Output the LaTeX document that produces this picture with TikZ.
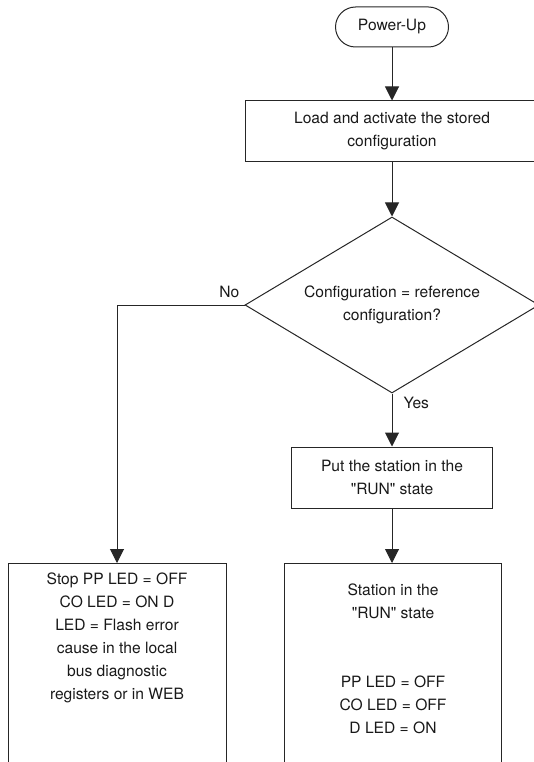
\documentclass[tikz,border=0pt]{standalone}
\usepackage{fontspec}
\setmainfont{TeX Gyre Heros}
\usetikzlibrary{shapes.geometric,arrows.meta,positioning}
\tikzset{>={Triangle[width=14pt,length=14pt]}}
\colorlet{Lcol}{black!85}
\colorlet{Tcol}{black!90}
\tikzstyle{flow}=[draw=Lcol,line width=1pt,text=Tcol,align=center,inner sep=0pt]
\tikzstyle{terminal}=[flow,rectangle,rounded corners=20pt,minimum width=113pt,minimum height=40pt]
\tikzstyle{process}=[flow,rectangle,minimum height=61pt]
\tikzstyle{decision}=[flow,diamond,aspect=1.67,minimum width=294pt,minimum height=176pt]
\tikzstyle{state}=[flow,rectangle,anchor=north,minimum height=250pt]
\tikzstyle{boxtext}=[align=center,inner sep=0pt,anchor=north,text=Tcol]
\tikzstyle{branch}=[inner sep=0pt,text=Tcol]
\tikzstyle{link}=[->,draw=Lcol,line width=1pt]
\def\cx{392}
\def\q{\textquotedbl}

\begin{document}
\begin{tikzpicture}[x=1pt,y=-1pt,font=\fontsize{15.6}{23}\selectfont]
  \clip (0,0) rectangle (534,762);

  % NODES
  \node[terminal] (power) at (\cx,27) {Power-Up};
  \node[process,minimum width=294pt] (load) at (\cx,131.5)
    {Load and activate the stored\\configuration};
  \node[decision] (check) at (\cx,305)
    {Configuration = reference\\configuration?};
  \node[process,minimum width=201pt] (put) at (\cx,477.5)
    {Put the station in the\\\q RUN\q{} state};

  % STATE BOXES
  \node[state,minimum width=218pt] (stop) at (117,563) {};
  \node[state,minimum width=217pt] (run) at (393,563) {};
  \node[boxtext] (stoptext) at ([yshift=-10pt]stop.north)
    {Stop PP LED = OFF\\CO LED = ON D\\LED = Flash error\\cause in the local\\bus diagnostic\\registers or in WEB};
  \node[boxtext] (runtext) at ([yshift=-21pt]run.north)
    {Station in the\\\q RUN\q{} state\\[46pt]PP LED = OFF\\CO LED = OFF\\D LED = ON};

  % ARROWS
  \draw[link] (power) -- (load);
  \draw[link] (load) -- (check);
  \draw[link] (check.south) -- (put.north)
    node[branch,pos=0,anchor=north west,xshift=11pt,yshift=-3pt] (yes) {Yes};
  \draw[link] (check.west) -| (stop.north);
  \node[branch,anchor=south east,xshift=-5pt,yshift=7.5pt] (no) at (check.west) {No};
  \draw[link] (put.south) -- (put.south |- run.north);
\end{tikzpicture}
\end{document}
